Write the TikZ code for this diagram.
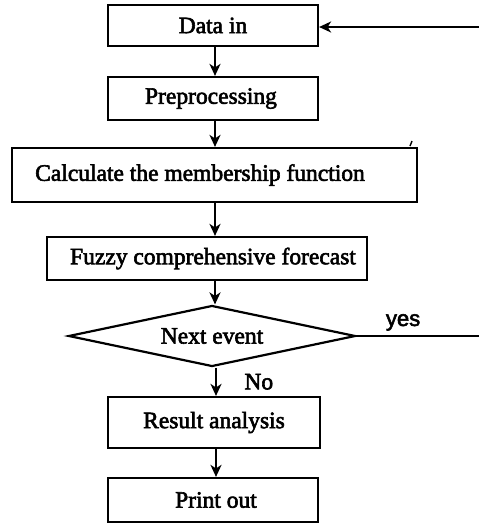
\documentclass[tikz,border=0pt]{standalone}
\usepackage{fontspec}
\setmainfont{Liberation Serif}
\newfontfamily\heavy{Liberation Serif}[FakeBold=2.5]
\newfontfamily\yesfont{Liberation Sans}[FakeBold=2.5]
\usetikzlibrary{shapes.geometric,arrows.meta}
\begin{document}
\begin{tikzpicture}[x=1pt,y=-1pt,
  line width=2.2pt,
  lbl/.style={font=\heavy\fontsize{23.5}{25}\selectfont},
  box/.style={draw,rectangle,inner sep=0pt,lbl},
  arr/.style={-{Stealth[length=12pt,width=11pt,inset=3.5pt]}}]
\useasboundingbox (0,0) rectangle (479,523);
\node[box,minimum width=210pt,minimum height=41pt] (data) at (213,25.5) {Data in};
\node[box,minimum width=210pt,minimum height=43pt] (pre) at (213,98.5) {Preprocessing\hspace*{4pt}};
\node[box,minimum width=405pt,minimum height=54pt] (calc) at (214.5,175) {Calculate the membership function\hspace*{29pt}};
\node[box,minimum width=320pt,minimum height=43pt] (fuzzy) at (207,258.5) {\hspace*{12pt}Fuzzy comprehensive forecast};
\node[draw,diamond,inner sep=0pt,minimum width=287pt,minimum height=61pt,shape aspect=4.7,lbl] (next) at (212,336) {Next event};
\node[box,minimum width=212pt,minimum height=51pt] (res) at (214,422.5) {Result analysis};
\node[box,minimum width=210pt,minimum height=44pt] (print) at (213,500) {\hspace*{6pt}Print out};
\coordinate (yesend) at (479,336);
\coordinate (backstart) at (479,27);
\draw[arr] (data.south -| 215,0) -- (pre.north -| 215,0);
\draw[arr] (pre.south -| 215,0) -- (calc.north -| 215,0);
\draw[arr] (calc.south -| 215,0) -- (fuzzy.north -| 215,0);
\draw[arr] (fuzzy.south -| 215,0) -- (next.north -| 215,0);
\draw[arr] (next.south -| 216,0) -- (res.north -| 216,0) node[midway,right=24pt,lbl] {No};
\draw[arr] (res.south -| 216,0) -- (print.north -| 216,0);
\draw (next.east) -- (next.east -| yesend) node[pos=0.38,above=1pt,font=\yesfont\fontsize{22}{24}\selectfont] {yes};
\draw[arr] (backstart) -- (data.east |- backstart);
\draw[line width=1.4pt] (410,146) -- (412,141);
\end{tikzpicture}
\end{document}
